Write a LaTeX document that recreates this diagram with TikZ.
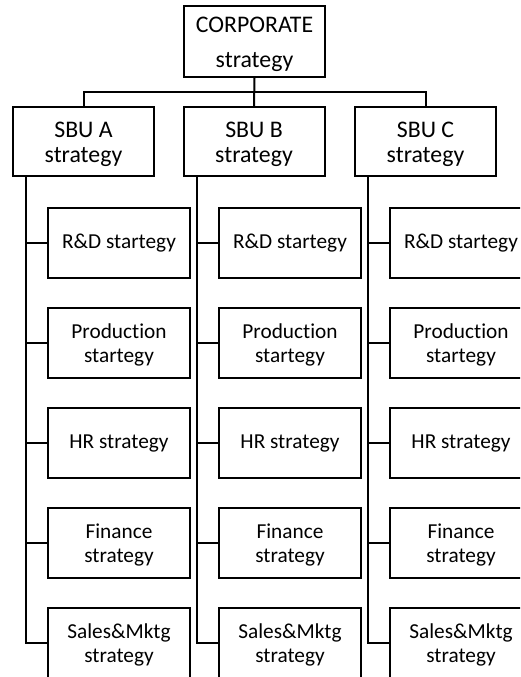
\documentclass[tikz,border=0pt]{standalone}
\usepackage{fontspec}
\setmainfont{Carlito}[Ligatures=NoCommon]
\begin{document}
\begin{tikzpicture}[x=1pt,y=-1pt,
  frame/.style={draw=black, line width=2pt, fill=white, inner sep=0pt, align=center},
  topbox/.style={frame, minimum width=141pt, minimum height=71pt,
    font=\fontsize{23.8}{35}\selectfont},
  sbubox/.style={frame, minimum width=141pt, minimum height=69pt,
    font=\fontsize{23.8}{25}\selectfont},
  kidbox/.style={frame, minimum width=142pt, minimum height=70pt,
    font=\fontsize{21.3}{24}\selectfont},
  conn/.style={draw=black, line width=2pt}]
\useasboundingbox (0,0) rectangle (520,677);
\clip (0,0) rectangle (520,677);

% corporate level
\node[topbox] (corp) at (254.5,41.5) {\rule{0pt}{21pt}CORPORATE\\strategy};

% business units
\node[sbubox] (sA) at (83.5,141.5) {\rule{0pt}{21pt}SBU A\\strategy};
\node[sbubox] (sB) at (254,141.5)  {\rule{0pt}{21pt}SBU B\\strategy};
\node[sbubox] (sC) at (425.5,141.5){\rule{0pt}{21pt}SBU C\\strategy};

\draw[conn] (corp.south) -- (sB.north);
\draw[conn] (sA.north) -- ++(0,-14) -| (sC.north);

% functional strategies under each unit
\foreach \u/\cx in {A/119, B/290, C/461}{
  \node[kidbox] (\u1) at (\cx,243) {R\&D startegy};
  \node[kidbox] (\u2) at (\cx,343) {\rule{0pt}{19pt}Production\\startegy};
  \node[kidbox] (\u3) at (\cx,443) {HR strategy};
  \node[kidbox] (\u4) at (\cx,543) {\rule{0pt}{19pt}Finance\\strategy};
  \node[kidbox] (\u5) at (\cx,643) {\rule{0pt}{19pt}Sales\&Mktg\\strategy};
  \coordinate (t\u) at ([xshift=14pt]s\u.south west);
  \draw[conn] (t\u) |- (\u5.west);
  \foreach \k in {1,2,3,4}{
    \draw[conn] (\u\k.west) -- (\u\k.west -| t\u);
  }
}
\end{tikzpicture}
\end{document}
